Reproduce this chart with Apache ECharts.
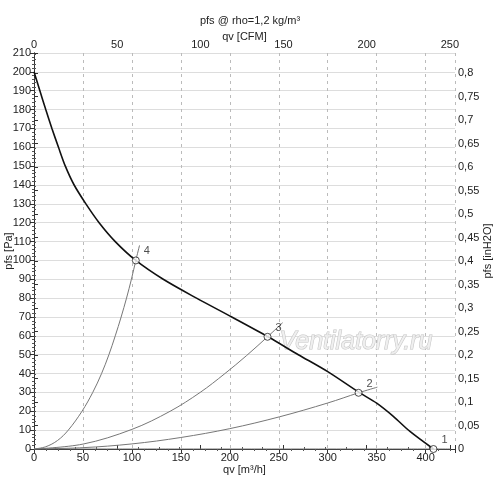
<!DOCTYPE html>
<html>
<head>
<meta charset="utf-8">
<script src="https://cdn.jsdelivr.net/npm/echarts@6/dist/echarts.min.js"></script>
<style>
  html, body { margin: 0; padding: 0; background: #fff; }
  #chart { width: 500px; height: 485px; }
</style>
</head>
<body>
<div id="chart"></div>
<script>
// fan curve
const fanQ = [0, 6, 12, 18.3, 25, 32, 41, 53, 66.5, 83, 104, 132, 166, 202, 239, 270, 300, 332, 350, 367, 384, 408];
const fanP = [200, 190, 180, 170, 160, 150, 140, 130, 120, 110, 100, 90, 80, 70, 59.5, 50, 41, 30, 24.3, 17.3, 9.3, 0];

// system curves 1..4
const sys1Q = [0, 425];
const sys1P = [0, 0];
const sys2Q = [0, 50, 100, 150, 200, 251, 300, 331.5, 350.7];
const sys2P = [0, 0.7, 2.7, 6.1, 10.8, 17.1, 24.4, 29.8, 32.8];
const sys3Q = [0, 50, 100, 139, 169.7, 195, 217, 238.5, 254];
const sys3P = [0, 2.6, 10.4, 20, 30, 40, 49.5, 59.5, 67];
const sys4Q = [0, 12, 24, 35, 49, 60, 69, 76.5, 83, 89, 94.5, 99.5, 104, 107.8];
const sys4P = [0, 1.2, 4.5, 10, 20, 30, 40, 50, 60, 70, 80, 90, 100, 108];

// operating points
const opNames = ['1', '2', '3', '4'];
const opQ = [408, 331.5, 238.5, 104];
const opP = [0, 29.8, 59.5, 100];

// axes
const qvMax = 430;          // m3/h
const cfmMax = qvMax / 1.699;
const paMax = 210;
const inH2OMax = paMax / 249.089;

const pairs = (xs, ys) => xs.map((x, i) => [x, ys[i]]);

const font = 'Liberation Sans';
const txt = '#222';

const chart = echarts.init(document.getElementById('chart'));

const axisCommon = {
    axisLine: { show: true, lineStyle: { color: '#333', width: 1 } },
    axisTick: { show: true, length: 4, lineStyle: { color: '#333' } },
    minorTick: { show: true, length: 2, lineStyle: { color: '#555' } },
    axisLabel: { color: txt, fontSize: 11, fontFamily: font, margin: 3 },
    nameTextStyle: { color: txt, fontSize: 11, fontFamily: font },
    nameLocation: 'middle',
    nameMoveOverlap: false
};

const sysLine = (data) => ({
    type: 'line',
    data: data,
    showSymbol: false,
    smooth: 0.35,
    lineStyle: { color: '#777', width: 1 },
    silent: true,
    z: 2
});

const option = {
    animation: false,
    backgroundColor: '#fff',
    textStyle: { fontFamily: font },
    title: {
        text: 'pfs @ rho=1,2 kg/m³',
        left: 'center',
        top: 10,
        textStyle: { color: txt, fontSize: 11, fontWeight: 'normal', fontFamily: font }
    },
    grid: { left: 34, right: 45, top: 53, bottom: 36, containLabel: false, outerBoundsMode: 'none' },
    xAxis: [
        Object.assign({}, axisCommon, {
            type: 'value', position: 'bottom',
            min: 0, max: qvMax, interval: 50,
            name: 'qv [m³/h]', nameGap: 15,
            minorTick: Object.assign({}, axisCommon.minorTick, { splitNumber: 4 }),
            axisLabel: Object.assign({}, axisCommon.axisLabel, { showMaxLabel: false }),
            splitLine: { show: true, lineStyle: { color: '#bbb', type: [3, 4] } }
        }),
        Object.assign({}, axisCommon, {
            type: 'value', position: 'top',
            min: 0, max: cfmMax, interval: 50,
            name: 'qv [CFM]', nameGap: 11,
            minorTick: Object.assign({}, axisCommon.minorTick, { splitNumber: 4 }),
            axisLabel: Object.assign({}, axisCommon.axisLabel, { showMaxLabel: false }),
            splitLine: { show: false }
        })
    ],
    yAxis: [
        Object.assign({}, axisCommon, {
            type: 'value', position: 'left',
            min: 0, max: paMax, interval: 10,
            name: 'pfs [Pa]', nameGap: 20, nameRotate: 90,
            minorTick: Object.assign({}, axisCommon.minorTick, { splitNumber: 5 }),
            splitLine: { show: true, lineStyle: { color: '#ddd', width: 1 } }
        }),
        Object.assign({}, axisCommon, {
            type: 'value', position: 'right',
            min: 0, max: inH2OMax, interval: 0.05,
            name: 'pfs [inH2O]', nameGap: 27, nameRotate: 90,
            minorTick: Object.assign({}, axisCommon.minorTick, { splitNumber: 5 }),
            axisLabel: Object.assign({}, axisCommon.axisLabel, {
                showMaxLabel: false,
                formatter: v => String(Math.round(v * 100) / 100).replace('.', ',')
            }),
            splitLine: { show: false }
        })
    ],
    graphic: [{
        type: 'text',
        left: 279,
        top: 329,
        z: 1,
        silent: true,
        style: {
            text: 'Ventilatorry.ru',
            font: 'italic 25px "Liberation Sans"',
            fill: 'rgba(238,238,238,0.9)',
            stroke: '#c4c4c4',
            lineWidth: 1
        }
    }],
    series: [
        sysLine(pairs(sys1Q, sys1P)),
        sysLine(pairs(sys2Q, sys2P)),
        sysLine(pairs(sys3Q, sys3P)),
        sysLine(pairs(sys4Q, sys4P)),
        {
            type: 'line',
            data: pairs(fanQ, fanP),
            showSymbol: false,
            smooth: 0.3,
            lineStyle: { color: '#111', width: 1.6 },
            silent: true,
            z: 3
        },
        {
            type: 'scatter',
            data: opQ.map((q, i) => ({ name: opNames[i], value: [q, opP[i]] })),
            symbol: 'circle',
            symbolSize: 7,
            itemStyle: { color: '#fff', borderColor: '#222', borderWidth: 1 },
            label: {
                show: true,
                position: 'right',
                distance: 4,
                offset: [0, -9],
                formatter: p => p.name,
                color: txt,
                fontSize: 11,
                fontFamily: font
            },
            silent: true,
            z: 4
        }
    ]
};

chart.setOption(option);
</script>
</body>
</html>
